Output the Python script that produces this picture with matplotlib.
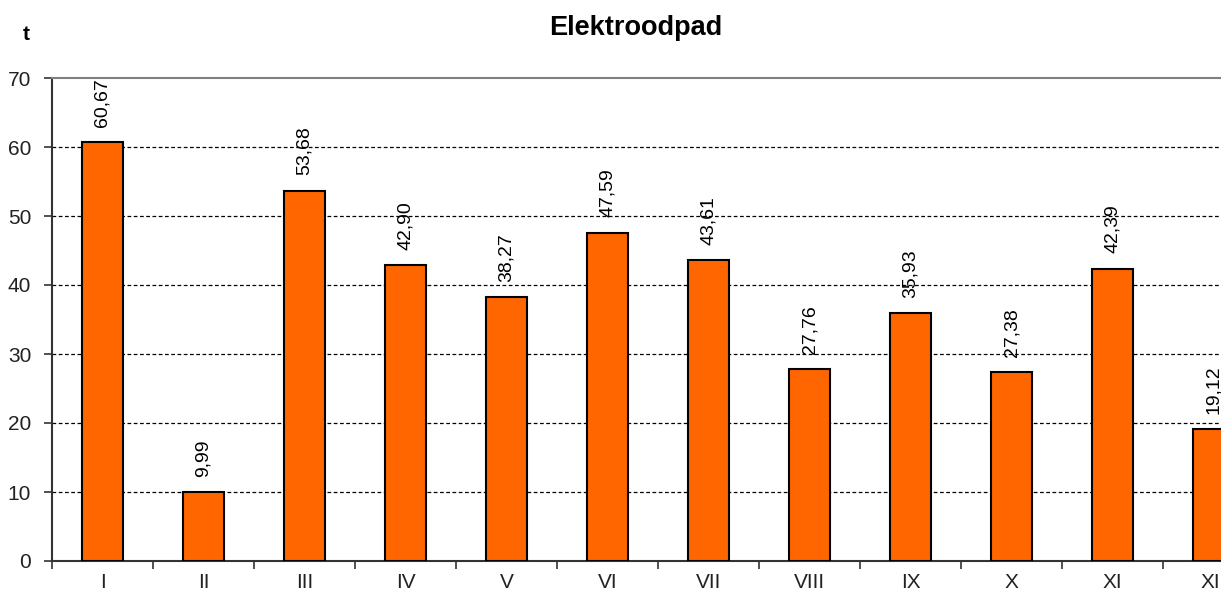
import matplotlib
matplotlib.use("Agg")
import matplotlib.pyplot as plt
import numpy as np

months = ["I", "II", "III", "IV", "V", "VI", "VII", "VIII", "IX", "X", "XI", "XII"]
values = [60.67, 9.99, 53.68, 42.90, 38.27, 47.59, 43.61, 27.76, 35.93, 27.38, 42.39, 19.12]
yticks = [0, 10, 20, 30, 40, 50, 60, 70]

plt.rcParams['font.family'] = ['Liberation Sans', 'DejaVu Sans']

fig = plt.figure(figsize=(12.21, 5.94), dpi=100)
ax = fig.add_axes([52/1221, 1-561/594, 1-52/1221, (561-78)/594])

x = np.arange(len(months))
ax.bar(x, values, width=0.4, color='#FF6600', edgecolor='black', linewidth=1.5, zorder=3)

for xi, v in zip(x, values):
    ax.annotate(f"{v:.2f}".replace('.', ','), (xi, v), xytext=(0, 11), textcoords='offset points',
                rotation=90, ha='center', va='bottom', fontsize=14, color='black', zorder=4,
                annotation_clip=False)

ax.set_yticks(yticks)
ax.set_yticklabels([str(t) for t in yticks], fontsize=15, color='#222222')
ax.set_xticks(x)
ax.set_xticklabels(months, fontsize=15, color='#222222')
ax.set_xticks(np.arange(-0.5, 12, 1), minor=True)
ax.set_ylim(0, 70)
ax.set_xlim(-0.5, -0.5 + (1221-52)/101)
ax.tick_params(axis='x', which='major', length=0, pad=9)
ax.tick_params(axis='x', which='minor', length=6, width=1.2, color='#333333', direction='out')
ax.tick_params(axis='y', which='major', length=6, width=1.2, color='#333333', pad=9)

for y in yticks[1:-1]:
    ax.axhline(y, color='black', linestyle=(0, (3, 2)), linewidth=0.9, zorder=1)

ax.spines['right'].set_visible(False)
ax.spines['top'].set_color('#808080')
ax.spines['top'].set_linewidth(1.5)
ax.spines['left'].set_color('#333333')
ax.spines['left'].set_linewidth(1.5)
ax.spines['bottom'].set_color('#333333')
ax.spines['bottom'].set_linewidth(1.5)

fig.text(636/1221, 1-28/594, "Elektroodpad", fontsize=19.5, fontweight='bold', ha='center', va='center')
fig.text(26/1221, 1-35/594, "t", fontsize=15, fontweight='bold', ha='center', va='center')

fig.savefig("out.png", dpi=100)
